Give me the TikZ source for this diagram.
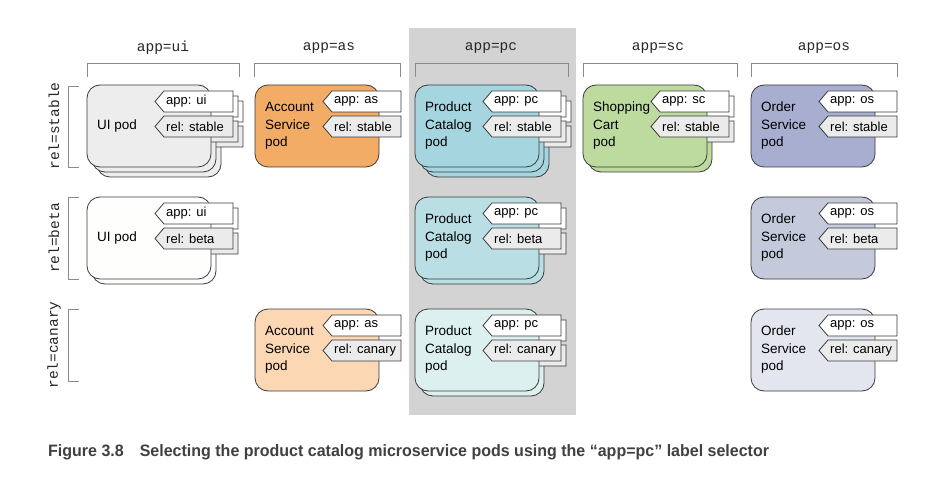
\documentclass[tikz,border=0pt]{standalone}
\usepackage{fontspec}
\setmainfont{Liberation Sans}
\setmonofont{Liberation Mono}
\newfontfamily\capfont[FakeStretch=0.97]{Liberation Sans}
\definecolor{linec}{HTML}{3A3A3A}
\definecolor{brc}{HTML}{8A8A8A}
\definecolor{colgray}{HTML}{D3D3D3}
\definecolor{relfill}{HTML}{EBEBEB}
\definecolor{uistable}{HTML}{EDEDED}
\definecolor{uibeta}{HTML}{FEFEFC}
\definecolor{asstable}{HTML}{F2AC66}
\definecolor{ascanary}{HTML}{FBD8B3}
\definecolor{pcstable}{HTML}{A5D6E0}
\definecolor{pcbeta}{HTML}{B9DFE5}
\definecolor{pccanary}{HTML}{DDF0F0}
\definecolor{scstable}{HTML}{BDDA9F}
\definecolor{osstable}{HTML}{A8AED0}
\definecolor{osbeta}{HTML}{C5C9DC}
\definecolor{oscanary}{HTML}{E4E6EF}
\definecolor{captc}{HTML}{404040}
\tikzset{
  podbox/.style={draw=linec, line width=0.8pt, rounded corners=13pt},
  tagbox/.style={draw=linec, line width=0.8pt},
  tagtext/.style={inner sep=0pt, anchor=west, font=\fontsize{13}{15}\selectfont, text=black},
  podtext/.style={inner sep=0pt, anchor=west, align=left, font=\fontsize{13.5}{17.5}\selectfont, text=black},
  colhead/.style={inner sep=0pt, font=\ttfamily\fontsize{14.5}{16}\selectfont, text=black!85},
  rowhead/.style={inner sep=0pt, rotate=90, font=\ttfamily\fontsize{14.5}{16}\selectfont, text=black!85},
  bracket/.style={draw=brc, line width=0.8pt},
}
% shape of one pod (no text): x, y, fill
\newcommand\podshape[3]{%
  \draw[podbox, fill=#3] (#1,#2) rectangle ++(124,82);
  \draw[tagbox, fill=white] ({#1+68},{#2+16.5}) -- ++(9,-10.5) -- ++(69,0) -- ++(0,21) -- ++(-69,0) -- cycle;
  \draw[tagbox, fill=relfill] ({#1+68},{#2+41.5}) -- ++(9,-10.5) -- ++(69,0) -- ++(0,21) -- ++(-69,0) -- cycle;
}
% labelled pod: name, x, y, fill, pod text, app text, rel text
\newcommand\podfull[7]{%
  \podshape{#2}{#3}{#4}
  \node[podtext] (#1-t) at ({#2+10},{#3+41}) {#5};
  \node[tagtext] (#1-a) at ({#2+79},{#3+16.5}) {#6};
  \node[tagtext] (#1-r) at ({#2+79},{#3+41.5}) {#7};
}
\begin{document}
\begin{tikzpicture}[x=1pt,y=-1pt]
\useasboundingbox (0,0) rectangle (941,478);
\fill[colgray] (408.5,28) rectangle (576,415);

% column headers and brackets
\node[colhead] (h-ui) at (163,48) {app=ui};
\node[colhead] (h-as) at (329,48) {app=as};
\node[colhead] (h-pc) at (491,48) {app=pc};
\node[colhead] (h-sc) at (658,48) {app=sc};
\node[colhead] (h-os) at (824,48) {app=os};
\draw[bracket] (87,77) -- (87,63) -- (239,63) -- (239,77);
\draw[bracket] (254,77) -- (254,63) -- (400,63) -- (400,77);
\draw[bracket] (415,77) -- (415,63) -- (568,63) -- (568,77);
\draw[bracket] (583,77) -- (583,63) -- (737,63) -- (737,77);
\draw[bracket] (751,77) -- (751,63) -- (897,63) -- (897,77);

% row headers and brackets
\node[rowhead] (r-stable) at (54,126) {rel=stable};
\node[rowhead] (r-beta) at (54,238) {rel=beta};
\node[rowhead] (r-canary) at (54,345) {rel=canary};
\draw[bracket] (79,86) -- (68,86) -- (68,167) -- (79,167);
\draw[bracket] (79,197) -- (68,197) -- (68,279) -- (79,279);
\draw[bracket] (79,309) -- (68,309) -- (68,381) -- (79,381);

% stable row
\podshape{97}{95}{uistable}
\podshape{92}{90}{uistable}
\podfull{uis}{87}{85}{uistable}{UI pod}{app: ui}{rel: stable}
\podfull{ass}{255}{85}{asstable}{Account\\Service\\pod}{app: as}{rel: stable}
\podshape{425}{95}{pcstable}
\podshape{420}{90}{pcstable}
\podfull{pcs}{415}{85}{pcstable}{Product\\Catalog\\pod}{app: pc}{rel: stable}
\podshape{588}{90}{scstable}
\podfull{scs}{583}{85}{scstable}{Shopping\\Cart\\pod}{app: sc}{rel: stable}
\podfull{oss}{751}{85}{osstable}{Order\\Service\\pod}{app: os}{rel: stable}

% beta row
\podshape{92}{202}{uibeta}
\podfull{uib}{87}{197}{uibeta}{UI pod}{app: ui}{rel: beta}
\podshape{420}{202}{pcbeta}
\podfull{pcb}{415}{197}{pcbeta}{Product\\Catalog\\pod}{app: pc}{rel: beta}
\podfull{osb}{751}{197}{osbeta}{Order\\Service\\pod}{app: os}{rel: beta}

% canary row
\podfull{asc}{255}{309}{ascanary}{Account\\Service\\pod}{app: as}{rel: canary}
\podshape{420}{314}{pccanary}
\podfull{pcc}{415}{309}{pccanary}{Product\\Catalog\\pod}{app: pc}{rel: canary}
\podfull{osc}{751}{309}{oscanary}{Order\\Service\\pod}{app: os}{rel: canary}

% caption
\node[inner sep=0pt, anchor=west, text=captc, font=\capfont\bfseries\fontsize{16.5}{18}\selectfont] (cap) at (48,452)
  {Figure 3.8\hspace{16pt}Selecting the product catalog microservice pods using the “app=pc” label selector};
\end{tikzpicture}
\end{document}
